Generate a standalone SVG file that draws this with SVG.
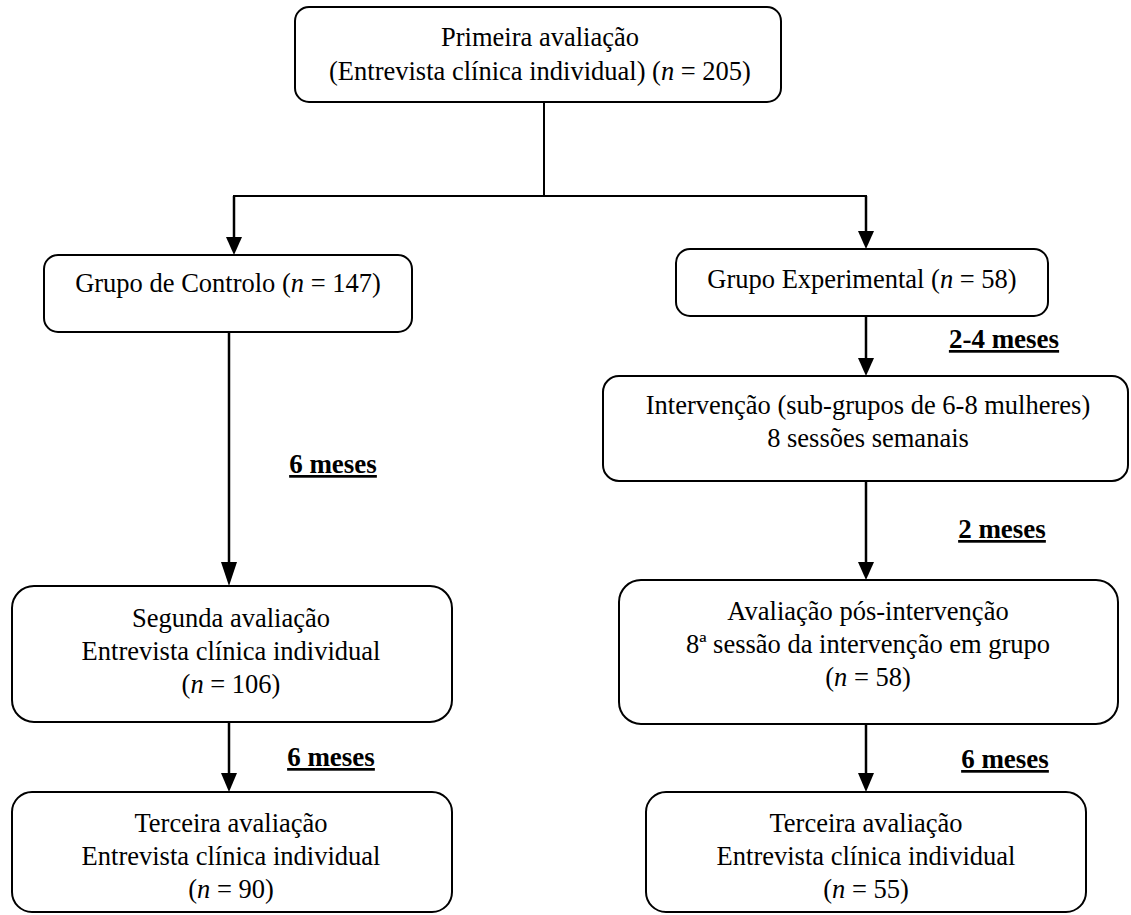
<svg xmlns="http://www.w3.org/2000/svg" width="1131" height="915" viewBox="0 0 1131 915">
<style>
.box{fill:#fff;stroke:#000;stroke-width:2}
.t{font-family:'Liberation Serif','Times New Roman',Tinos,'DejaVu Serif',serif;font-size:26.5px;fill:#000;text-anchor:middle}
.i{font-style:italic}
.lbl{font-family:'Liberation Serif','Times New Roman',Tinos,'DejaVu Serif',serif;font-size:27px;font-weight:bold;fill:#000;text-anchor:middle;text-decoration:underline}
.ln{fill:none;stroke:#000;stroke-width:2}
.lt{fill:none;stroke:#000;stroke-width:2.5}
.hd{fill:#000}
</style>
<g id="connectors">
<path class="ln" d="M544 102 V196"/>
<path class="ln" d="M233 196 H867"/>
<path class="lt" d="M234 196 V238"/>
<path class="lt" d="M866 196 V232"/>
<polygon class="hd" points="226,237 242,237 234,255"/>
<polygon class="hd" points="858,231 874,231 866,249"/>
<path class="lt" d="M229 332 V563"/>
<polygon class="hd" points="221,562 237,562 229,586"/>
<path class="lt" d="M229 722 V775"/>
<polygon class="hd" points="221,773 237,773 229,792"/>
<path class="lt" d="M866 316 V359"/>
<polygon class="hd" points="858,358 874,358 866,376"/>
<path class="lt" d="M866 481 V563"/>
<polygon class="hd" points="858,562 874,562 866,580"/>
<path class="lt" d="M866 724 V775"/>
<polygon class="hd" points="858,773 874,773 866,792"/>
<text class="lbl" x="333" y="473">6 meses</text>
<text class="lbl" x="331" y="766">6 meses</text>
<text class="lbl" x="1004" y="348">2-4 meses</text>
<text class="lbl" x="1002" y="538">2 meses</text>
<text class="lbl" x="1005" y="768">6 meses</text>
</g>
<g id="n1">
<rect class="box" x="295" y="7" width="486" height="95" rx="14"/>
<text class="t" x="540" y="46">Primeira avaliação</text>
<text class="t" x="540" y="80">(Entrevista clínica individual) (<tspan class="i">n</tspan> = 205)</text>
</g>
<g id="n2">
<rect class="box" x="44" y="255" width="368" height="77" rx="14"/>
<text class="t" x="228" y="292">Grupo de Controlo (<tspan class="i">n</tspan> = 147)</text>
</g>
<g id="n3">
<rect class="box" x="676" y="249" width="372" height="67" rx="14"/>
<text class="t" x="862" y="288">Grupo Experimental (<tspan class="i">n</tspan> = 58)</text>
</g>
<g id="n4">
<rect class="box" x="603" y="376" width="525" height="105" rx="16"/>
<text class="t" x="868" y="414">Intervenção (sub-grupos de 6-8 mulheres)</text>
<text class="t" x="868" y="447">8 sessões semanais</text>
</g>
<g id="n5">
<rect class="box" x="12" y="586" width="440" height="136" rx="22"/>
<text class="t" x="231" y="627">Segunda avaliação</text>
<text class="t" x="231" y="660">Entrevista clínica individual</text>
<text class="t" x="231" y="693">(<tspan class="i">n</tspan> = 106)</text>
</g>
<g id="n6">
<rect class="box" x="619" y="580" width="499" height="144" rx="22"/>
<text class="t" x="868" y="620">Avaliação pós-intervenção</text>
<text class="t" x="868" y="653">8ª sessão da intervenção em grupo</text>
<text class="t" x="868" y="686">(<tspan class="i">n</tspan> = 58)</text>
</g>
<g id="n7">
<rect class="box" x="12" y="792" width="440" height="120" rx="20"/>
<text class="t" x="231" y="832">Terceira avaliação</text>
<text class="t" x="231" y="865">Entrevista clínica individual</text>
<text class="t" x="231" y="898">(<tspan class="i">n</tspan> = 90)</text>
</g>
<g id="n8">
<rect class="box" x="646" y="792" width="440" height="120" rx="20"/>
<text class="t" x="866" y="832">Terceira avaliação</text>
<text class="t" x="866" y="865">Entrevista clínica individual</text>
<text class="t" x="866" y="898">(<tspan class="i">n</tspan> = 55)</text>
</g>
</svg>
